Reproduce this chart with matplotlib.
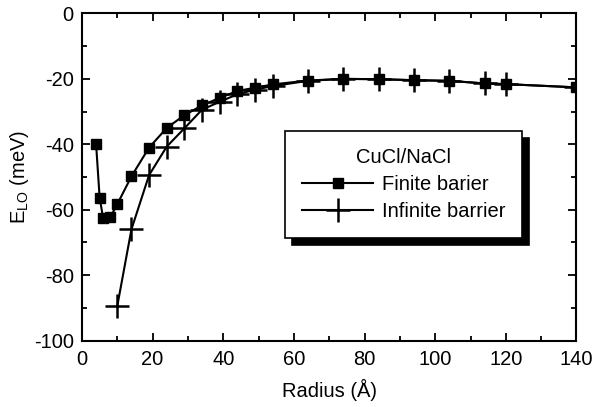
import numpy as np
import matplotlib
matplotlib.use("Agg")
import matplotlib.pyplot as plt
from matplotlib.ticker import MultipleLocator

# ===== DATA =====
radius_finite = [4, 5, 6, 8, 10, 14, 19, 24, 29, 34, 39, 44, 49, 54, 64, 74,
                 84, 94, 104, 114, 120, 140]
elo_finite = [-40.0, -56.3, -62.6, -62.3, -58.3, -49.8, -41.0, -35.0, -31.1,
              -28.1, -25.8, -23.7, -22.7, -21.7, -20.5, -20.0, -20.1, -20.4,
              -20.6, -21.4, -21.6, -22.6]

radius_infinite = [10, 14, 19, 24, 29, 34, 39, 44, 49, 54, 64, 74, 84, 94,
                   104, 114, 120, 140]
elo_infinite = [-89.4, -66.0, -49.4, -40.7, -35.1, -29.4, -27.0, -24.7,
                -23.3, -22.2, -20.6, -20.0, -20.1, -20.4, -20.6, -21.4,
                -21.6, -22.6]

legend_title = "CuCl/NaCl"
label_finite = "Finite barier"
label_infinite = "Infinite barrier"

# ===== PLOT =====
fs = 14.5
plt.rcParams['font.family'] = ['Liberation Sans', 'DejaVu Sans']
plt.rcParams['font.size'] = fs
plt.rcParams['axes.unicode_minus'] = False

fig = plt.figure(figsize=(6.09, 4.07), dpi=100)
ax = fig.add_axes([0.1346, 0.163, 0.812, 0.804])

ax.plot(radius_finite, elo_finite, '-s', color='black', lw=1.5,
        markersize=6.5, label=label_finite)
ax.plot(radius_infinite, elo_infinite, '-+', color='black', lw=1.5,
        markersize=17, markeredgewidth=1.8, label=label_infinite)

ax.set_xlim(0, 140)
ax.set_ylim(-100, 0)
ax.xaxis.set_major_locator(MultipleLocator(20))
ax.xaxis.set_minor_locator(MultipleLocator(10))
ax.yaxis.set_major_locator(MultipleLocator(20))
ax.yaxis.set_minor_locator(MultipleLocator(10))
ax.tick_params(which='both', direction='in', top=True, right=True,
               width=1.3, labelsize=fs)
ax.tick_params(which='major', length=5.5)
ax.tick_params(which='minor', length=3.5)
ax.tick_params(axis='x', pad=7)
ax.tick_params(axis='y', pad=6)
for s in ax.spines.values():
    s.set_linewidth(1.5)

ax.set_xlabel("Radius (Å)", fontsize=fs, labelpad=7)
ax.set_ylabel(r"E$_{\mathregular{LO}}$ (meV)", fontsize=fs, labelpad=2)

leg = ax.legend(title=legend_title, loc='upper left',
                bbox_to_anchor=(0.411, 0.642), frameon=True, fancybox=False,
                shadow={'ox': 5, 'oy': -5, 'color': 'black', 'alpha': 1},
                handlelength=3.5, handletextpad=0.45, borderpad=0.85,
                labelspacing=0.4, fontsize=fs, title_fontsize=fs,
                borderaxespad=0)
leg.get_frame().set_edgecolor('black')
leg.get_frame().set_linewidth(1.2)

fig.savefig("out.png", dpi=100)
